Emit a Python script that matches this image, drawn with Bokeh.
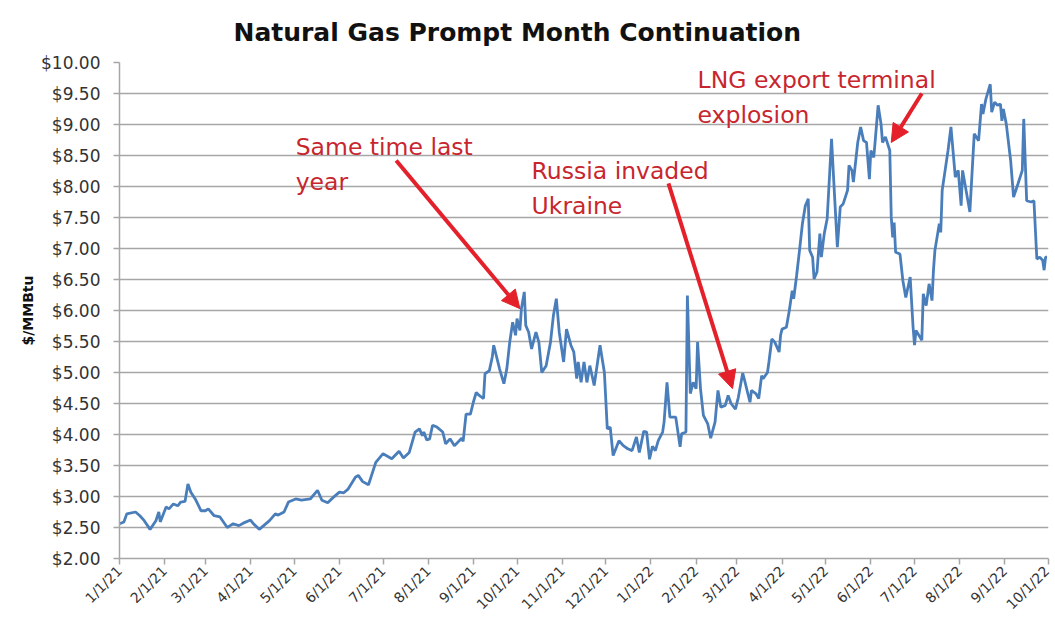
import math
import pandas as pd
from bokeh.plotting import figure
from bokeh.models import FixedTicker, Range1d, Arrow, NormalHead, ColumnDataSource
from bokeh.core.properties import value
from bokeh.embed import file_html
from bokeh.resources import INLINE

# ---------------- data ----------------
series_start = "2021-01-01"
day_offset = [0, 3, 5, 11, 14, 17, 21, 25, 27, 28, 32, 34, 37, 40, 42, 45, 47, 49, 52, 56,
              59, 61, 65, 69, 74, 76, 78, 82, 85, 90, 92, 96, 99, 103, 107, 109, 113, 116, 121, 125,
              131, 136, 139, 143, 147, 151, 154, 157, 162, 164, 167, 171, 176, 181, 187, 192, 195, 199, 203, 206,
              208, 209, 211, 213, 215, 218, 222, 224, 227, 230, 233, 235, 236, 238, 241, 243, 245, 247, 250, 251,
              254, 256, 257, 259, 261, 264, 266, 268, 270, 272, 273, 275, 276, 278, 279, 281, 283, 286, 288, 290,
              293, 296, 298, 300, 302, 305, 307, 310, 312, 314, 315, 317, 319, 321, 323, 325, 326, 330, 333, 335,
              337, 339, 343, 346, 349, 352, 355, 357, 360, 362, 364, 366, 368, 370, 373, 374, 376, 378, 382, 385,
              386, 389, 390, 392, 394, 396, 397, 399, 401, 404, 406, 409, 411, 413, 416, 418, 420, 423, 425, 428,
              429, 431, 433, 434, 437, 439, 441, 442, 445, 446, 448, 450, 453, 454, 455, 458, 460, 462, 463, 465,
              467, 469, 471, 473, 474, 476, 477, 479, 481, 482, 484, 486, 489, 491, 493, 495, 497, 500, 501, 503,
              504, 507, 509, 511, 513, 515, 516, 518, 519, 521, 523, 524, 526, 529, 530, 531, 532, 533, 536, 538,
              540, 543, 545, 546, 547, 551, 552, 554, 556, 558, 559, 560, 563, 564, 565, 567, 569, 571, 574, 576,
              578, 579, 581, 584, 587, 590, 592, 593, 595, 598, 599, 601, 603, 605, 606, 607, 609, 612, 614, 617,
              620, 621, 623, 626, 628, 630, 632, 634, 635, 636, 637]
price = [2.56, 2.59, 2.72, 2.75, 2.69, 2.61, 2.47, 2.61, 2.75, 2.59, 2.83, 2.80, 2.88, 2.85, 2.91, 2.92, 3.20, 3.07, 2.96, 2.77,
         2.77, 2.80, 2.69, 2.67, 2.50, 2.53, 2.56, 2.53, 2.57, 2.62, 2.56, 2.47, 2.53, 2.61, 2.72, 2.70, 2.75, 2.91, 2.96, 2.94,
         2.96, 3.10, 2.94, 2.90, 2.99, 3.07, 3.06, 3.12, 3.31, 3.34, 3.24, 3.19, 3.55, 3.69, 3.61, 3.73, 3.62, 3.71, 4.04, 4.09,
         3.98, 4.04, 3.91, 3.93, 4.15, 4.12, 4.04, 3.85, 3.93, 3.82, 3.89, 3.94, 3.89, 4.33, 4.33, 4.52, 4.68, 4.63, 4.58, 4.98,
         5.03, 5.25, 5.44, 5.25, 5.06, 4.82, 5.06, 5.49, 5.81, 5.60, 5.87, 5.68, 6.03, 6.30, 5.76, 5.65, 5.38, 5.65, 5.49, 5.00,
         5.11, 5.49, 5.92, 6.19, 5.65, 5.17, 5.70, 5.44, 5.33, 4.90, 5.17, 4.84, 5.17, 4.84, 5.11, 4.90, 4.79, 5.44, 5.00, 4.09,
         4.12, 3.66, 3.90, 3.82, 3.77, 3.74, 3.96, 3.71, 4.05, 4.04, 3.60, 3.81, 3.74, 3.90, 4.04, 4.20, 4.84, 4.28, 4.28, 3.80,
         4.01, 4.04, 6.24, 4.66, 4.84, 4.74, 5.49, 4.74, 4.31, 4.17, 3.94, 4.20, 4.71, 4.44, 4.47, 4.63, 4.50, 4.41, 4.60, 4.99,
         4.90, 4.71, 4.52, 4.71, 4.66, 4.58, 4.95, 4.90, 5.00, 5.17, 5.54, 5.49, 5.33, 5.60, 5.70, 5.73, 6.00, 6.32, 6.19, 6.56,
         6.97, 7.40, 7.69, 7.80, 6.97, 6.86, 6.51, 6.62, 7.24, 6.86, 7.24, 7.48, 8.77, 7.88, 7.02, 7.67, 7.72, 7.94, 8.34, 8.26,
         8.07, 8.71, 8.96, 8.74, 8.71, 8.12, 8.58, 8.47, 8.74, 9.31, 9.01, 8.71, 8.80, 8.58, 7.51, 7.18, 7.42, 6.94, 6.91, 6.48,
         6.21, 6.54, 5.73, 5.44, 5.68, 5.52, 6.27, 6.08, 6.43, 6.16, 6.65, 6.97, 7.40, 7.26, 7.94, 8.26, 8.58, 8.96, 8.15, 8.26,
         7.69, 8.26, 7.99, 7.59, 8.85, 8.74, 9.33, 9.17, 9.41, 9.65, 9.20, 9.36, 9.31, 9.33, 9.06, 9.25, 9.01, 8.42, 7.83, 8.04,
         8.26, 9.09, 7.77, 7.75, 7.77, 6.83, 6.86, 6.81, 6.65, 6.86, 6.86]

x_tick_dates = ["2021-01-01", "2021-02-01", "2021-03-01", "2021-04-01", "2021-05-01", "2021-06-01",
                "2021-07-01", "2021-08-01", "2021-09-01", "2021-10-01", "2021-11-01", "2021-12-01",
                "2022-01-01", "2022-02-01", "2022-03-01", "2022-04-01", "2022-05-01", "2022-06-01",
                "2022-07-01", "2022-08-01", "2022-09-01", "2022-10-01"]
x_tick_labels = ["1/1/21", "2/1/21", "3/1/21", "4/1/21", "5/1/21", "6/1/21", "7/1/21", "8/1/21",
                 "9/1/21", "10/1/21", "11/1/21", "12/1/21", "1/1/22", "2/1/22", "3/1/22", "4/1/22",
                 "5/1/22", "6/1/22", "7/1/22", "8/1/22", "9/1/22", "10/1/22"]
y_ticks = [2.0, 2.5, 3.0, 3.5, 4.0, 4.5, 5.0, 5.5, 6.0, 6.5, 7.0, 7.5, 8.0, 8.5, 9.0, 9.5, 10.0]
y_tick_labels = ["$2.00", "$2.50", "$3.00", "$3.50", "$4.00", "$4.50", "$5.00", "$5.50", "$6.00",
                 "$6.50", "$7.00", "$7.50", "$8.00", "$8.50", "$9.00", "$9.50", "$10.00"]

ann_text = ["Same time last\nyear", "Russia invaded\nUkraine", "LNG export terminal\nexplosion"]
ann_x = ["2021-05-02", "2021-10-11", "2022-02-02"]
ann_y = [8.86, 8.48, 9.95]

arrow_x0 = ["2021-07-10", "2022-01-13", "2022-07-06"]
arrow_y0 = [8.42, 8.05, 9.50]
arrow_x1 = ["2021-10-03", "2022-02-26", "2022-06-15"]
arrow_y1 = [6.03, 4.74, 8.71]

# ---------------- helpers ----------------
def ms(d):
    return pd.Timestamp(d).value // 10**6

dates = pd.Timestamp(series_start) + pd.to_timedelta(day_offset, unit="D")
x_ticks = [ms(d) for d in x_tick_dates]

FONT = "DejaVu Sans"
TXT = "#333333"
GRID = "#a6a6a6"

p = figure(width=1052, height=620, x_axis_type="datetime",
           x_range=Range1d(ms(x_tick_dates[0]), ms(x_tick_dates[-1])),
           y_range=Range1d(y_ticks[0], y_ticks[-1]),
           output_backend="svg", toolbar_location=None,
           min_border_left=119, min_border_right=4, min_border_top=62, min_border_bottom=62)

p.title.text = "Natural Gas Prompt Month Continuation"
p.title.text_font = FONT
p.title.text_font_style = "bold"
p.title.text_font_size = "25px"
p.title.text_color = "#111111"
p.title.align = "left"
p.title.offset = 114
p.title.standoff = 31

p.outline_line_color = None
p.background_fill_color = "white"
p.border_fill_color = "white"
p.xgrid.visible = False
p.ygrid.grid_line_color = GRID
p.ygrid.grid_line_width = 1.5
p.ygrid.ticker = FixedTicker(ticks=y_ticks)

for ax in (p.xaxis[0], p.yaxis[0]):
    ax.axis_line_color = GRID
    ax.axis_line_width = 1.5
    ax.major_tick_line_color = GRID
    ax.major_tick_line_width = 1.5
    ax.major_tick_out = 6
    ax.major_tick_in = 0
    ax.minor_tick_line_color = None
    ax.major_label_text_font = FONT
    ax.major_label_text_color = TXT

xa = p.xaxis[0]
xa.ticker = FixedTicker(ticks=x_ticks)
xa.major_label_overrides = {t: l for t, l in zip(x_ticks, x_tick_labels)}
xa.major_label_orientation = math.pi / 4
xa.major_label_text_font_size = "14px"
xa.major_label_standoff = 4

ya = p.yaxis[0]
ya.ticker = FixedTicker(ticks=y_ticks)
ya.major_label_overrides = {t: l for t, l in zip(y_ticks, y_tick_labels)}
ya.major_label_text_font_size = "17px"
ya.major_label_standoff = 13
ya.axis_label = "$/MMBtu"
ya.axis_label_text_font = FONT
ya.axis_label_text_font_style = "bold"
ya.axis_label_text_font_size = "14px"
ya.axis_label_text_color = "#111111"
ya.axis_label_standoff = 2

p.line(x=dates, y=price, line_color="#4a7ebb", line_width=2.8)

# annotation arrows
RED = "#e4202a"
src_arrow = ColumnDataSource(dict(
    x0=pd.to_datetime(arrow_x0), y0=arrow_y0, x1=pd.to_datetime(arrow_x1), y1=arrow_y1))
p.add_layout(Arrow(source=src_arrow, x_start="x0", y_start="y0", x_end="x1", y_end="y1",
                   line_color=RED, line_width=4,
                   end=NormalHead(size=18, fill_color=RED, line_color=RED)))

src_text = ColumnDataSource(dict(x=pd.to_datetime(ann_x), y=ann_y, t=ann_text))
p.text(x="x", y="y", text="t", source=src_text, text_color="#c8262e",
       text_font=value(FONT), text_font_size="23.5px", text_align="left", text_baseline="top",
       text_line_height=1.25)

open("out.html", "w").write(file_html(p, INLINE))
